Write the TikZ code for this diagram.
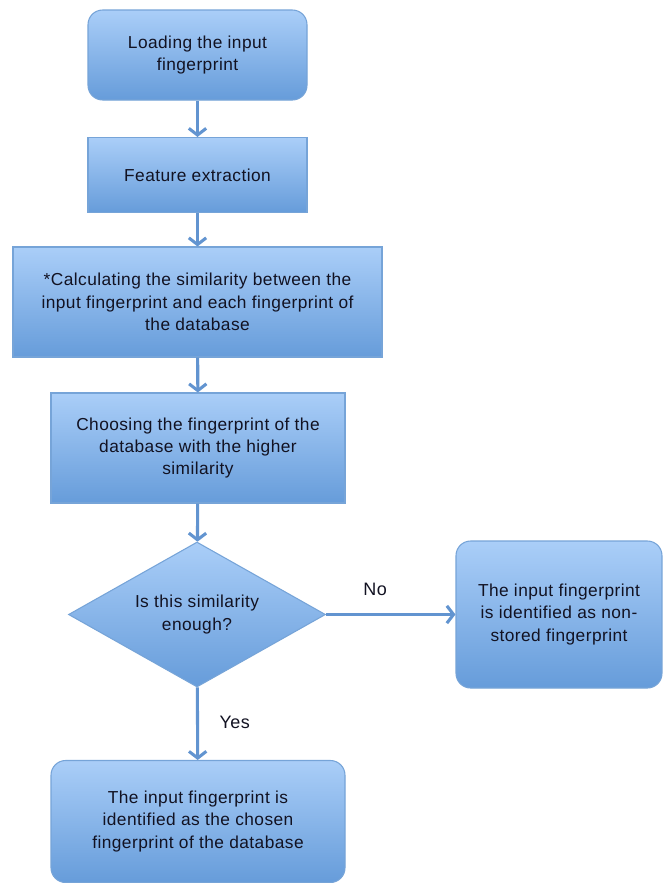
\documentclass[tikz,border=0pt]{standalone}
\usepackage{fontspec}
\setmainfont{Liberation Sans}
\newfontfamily\flowfont[LetterSpace=2.5]{Liberation Sans}
\usetikzlibrary{shapes.geometric,arrows.meta}
\definecolor{boxtop}{RGB}{170,206,248}
\definecolor{boxbot}{RGB}{102,156,218}
\definecolor{boxline}{RGB}{118,164,216}
\definecolor{flowline}{RGB}{98,148,208}
\definecolor{ink}{RGB}{18,18,34}
\tikzset{
  shaded/.style={top color=boxtop, bottom color=boxbot, draw=boxline, line width=0.8pt,
    text=ink, font=\flowfont\fontsize{13}{16.8}\selectfont, align=center, inner sep=0pt},
  roundbox/.style={shaded, rectangle, rounded corners=11pt},
  sqbox/.style={shaded, rectangle},
  decision/.style={shaded, diamond, aspect=1.772},
  flow/.style={draw=flowline, line width=2.3pt,
    -{Straight Barb[length=5pt,width=13pt,line width=2.3pt]}},
  tag/.style={text=ink, font=\flowfont\fontsize{13.5}{16}\selectfont}
}
\begin{document}
\begin{tikzpicture}[x=0.75pt,y=-0.75pt]
\useasboundingbox (0,0) rectangle (663,883);
\fill[white] (0,0) rectangle (663,883);

\node[roundbox, minimum width=164.25pt, minimum height=67.5pt] (load) at (197.5,55)
  {Loading the input\\fingerprint};
\node[sqbox, minimum width=164.25pt, minimum height=56.25pt] (feat) at (197.5,175)
  {Feature extraction};
\node[sqbox, minimum width=276.75pt, minimum height=82.5pt] (calc) at (197.5,302)
  {*Calculating the similarity between the\\input fingerprint and each fingerprint of\\the database};
\node[sqbox, minimum width=220.5pt, minimum height=82.5pt] (choose) at (198,448)
  {Choosing the fingerprint of the\\database with the higher\\similarity};
\node[decision, minimum width=192.75pt, minimum height=108.75pt] (enough) at (197,614.5)
  {Is this similarity\\enough?};
\node[roundbox, minimum width=154.5pt, minimum height=110.25pt] (nonstored) at (559,614.5)
  {The input fingerprint\\is identified as non-\\stored fingerprint};
\node[roundbox, minimum width=220.5pt, minimum height=91.5pt] (chosen) at (198,821.5)
  {The input fingerprint is\\identified as the chosen\\fingerprint of the database};

\draw[flow] (load) -- (feat);
\draw[flow] (feat) -- (calc);
\draw[flow] (calc) -- (choose);
\draw[flow] (choose) -- (enough);
\draw[flow] (enough) -- node[tag, above, pos=0.38, yshift=10pt] {No} (nonstored);
\draw[flow] (enough) -- node[tag, right, pos=0.5, xshift=12pt, yshift=1pt] {Yes} (chosen);
\end{tikzpicture}
\end{document}
